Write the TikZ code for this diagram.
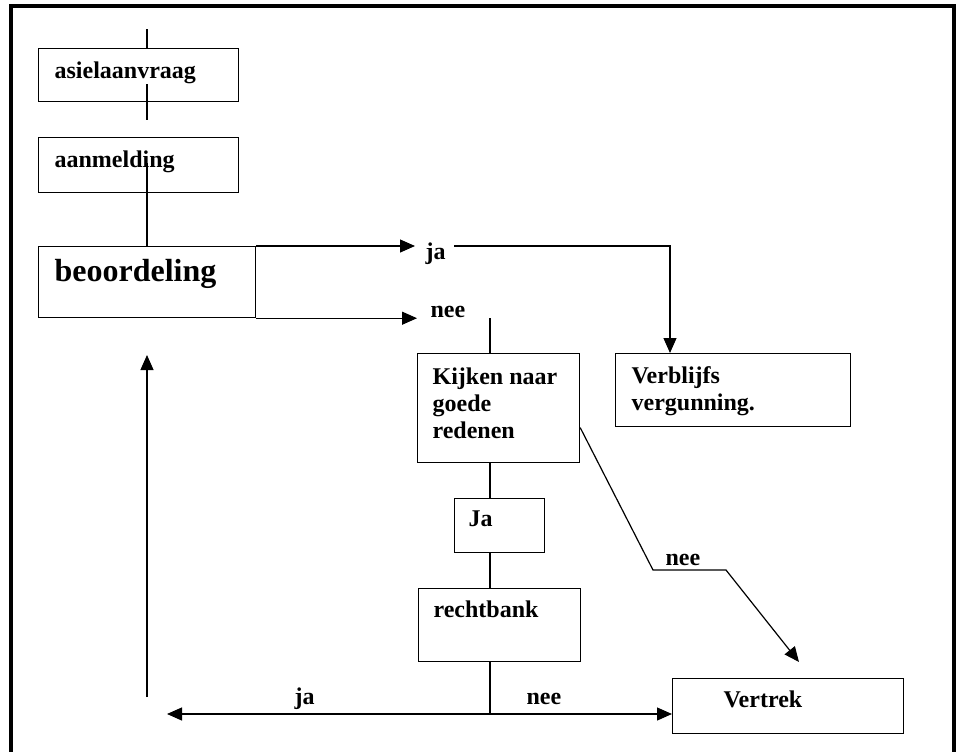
\documentclass[tikz,border=0pt]{standalone}
\usepackage{fontspec}
\setmainfont{Liberation Serif}
\usetikzlibrary{arrows.meta}

\tikzset{
  doos/.style={draw, anchor=north west, inner sep=0pt},
  tekst/.style={anchor=base west, inner sep=0pt, align=left,
    font=\bfseries\fontsize{12pt}{13.5pt}\selectfont},
  pijl/.style={-{Triangle[length=7.5pt,width=6.5pt]}}
}

\begin{document}
\begin{tikzpicture}[x=0.5pt,y=-0.5pt,line width=0.6pt]
\useasboundingbox (0,0) rectangle (960,751);
% kader
\draw[line width=1.6pt] (11,760) -- (11,6) -- (954,6) -- (954,760);

% blokken
\node[doos, minimum width=100pt, minimum height=26.5pt] (asiel) at (38,48) {};
\node[doos, minimum width=100pt, minimum height=27.5pt] (aanmeld) at (38,137) {};
\node[doos, minimum width=108.5pt, minimum height=35.5pt] (beoord) at (38,246) {};
\node[doos, minimum width=81pt, minimum height=54.5pt] (kijken) at (417,353) {};
\node[doos, minimum width=117.5pt, minimum height=36.5pt] (verbl) at (615,353) {};
\node[doos, minimum width=45pt, minimum height=27pt] (jabox) at (454,498) {};
\node[doos, minimum width=81pt, minimum height=36.5pt] (recht) at (418,588) {};
\node[doos, minimum width=115.5pt, minimum height=27.5pt] (vertrek) at (672,678) {};

% teksten in de blokken (bij meer regels: basislijn van de laatste regel)
\node[tekst] (asiel-t) at ([shift={(16,30)}]asiel.north west) {asielaanvraag};
\node[tekst] (aanmeld-t) at ([shift={(16,30)}]aanmeld.north west) {aanmelding};
\node[tekst, font=\bfseries\fontsize{16pt}{18pt}\selectfont] (beoord-t) at ([shift={(16,35)}]beoord.north west) {beoordeling};
\node[tekst] (kijken-t) at ([shift={(15,85)}]kijken.north west) {Kijken naar\\goede\\redenen};
\node[tekst] (verbl-t) at ([shift={(16,57)}]verbl.north west) {Verblijfs\\vergunning.};
\node[tekst] (jabox-t) at ([shift={(14,28)}]jabox.north west) {Ja};
\node[tekst] (recht-t) at ([shift={(15,29)}]recht.north west) {rechtbank};
\node[tekst] (vertrek-t) at ([shift={(51,29)}]vertrek.north west) {Vertrek};

% losse labels
\node[tekst] (ja1) at (425,259) {ja};
\node[tekst] (nee1) at (430,317) {nee};
\node[tekst] (nee2) at (665,565) {nee};
\node[tekst] (ja2) at (294,704) {ja};
\node[tekst] (nee3) at (526,704) {nee};

% hulppunten
\coordinate (top) at (147,29);
\coordinate (a1) at (147,84);
\coordinate (a2) at (147,120);
\coordinate (a3) at (147,163);
\coordinate (as) at (490,0);
\coordinate (bocht) at (670,246);
\coordinate (kruis) at (490,714);
\coordinate (terug) at (147,697);
\coordinate (terugtop) at (147,355);
\coordinate (d1) at (653,570);
\coordinate (d2) at (726,570);
\coordinate (d3) at (799,662);

% verbindingen
\draw (top) -- (top |- asiel.north);
\draw (a1) -- (a2);
\draw (a3) -- (a3 |- beoord.north);
\draw[pijl] (beoord.north east) -- ([xshift=-5pt]ja1.west |- beoord.north);
\draw[pijl] (beoord.south east) -- ([xshift=-6.5pt]nee1.west |- beoord.south);
\draw[pijl] ([xshift=4pt]ja1.east |- bocht) -- (bocht) -- (bocht |- verbl.north);
\draw (as |- 0,318) -- (as |- kijken.north);
\draw (as |- kijken.south) -- (as |- jabox.north);
\draw (as |- jabox.south) -- (as |- recht.north);
\draw (as |- recht.south) -- (kruis);
\draw[pijl] (kruis) -- (167,714);
\draw[pijl] (kruis) -- (kruis -| vertrek.west);
\draw[pijl] (terug) -- (terugtop);
\draw[pijl] ([shift={(0,19.5)}]kijken.east) -- (d1) -- (d2) -- (d3);
\end{tikzpicture}
\end{document}
